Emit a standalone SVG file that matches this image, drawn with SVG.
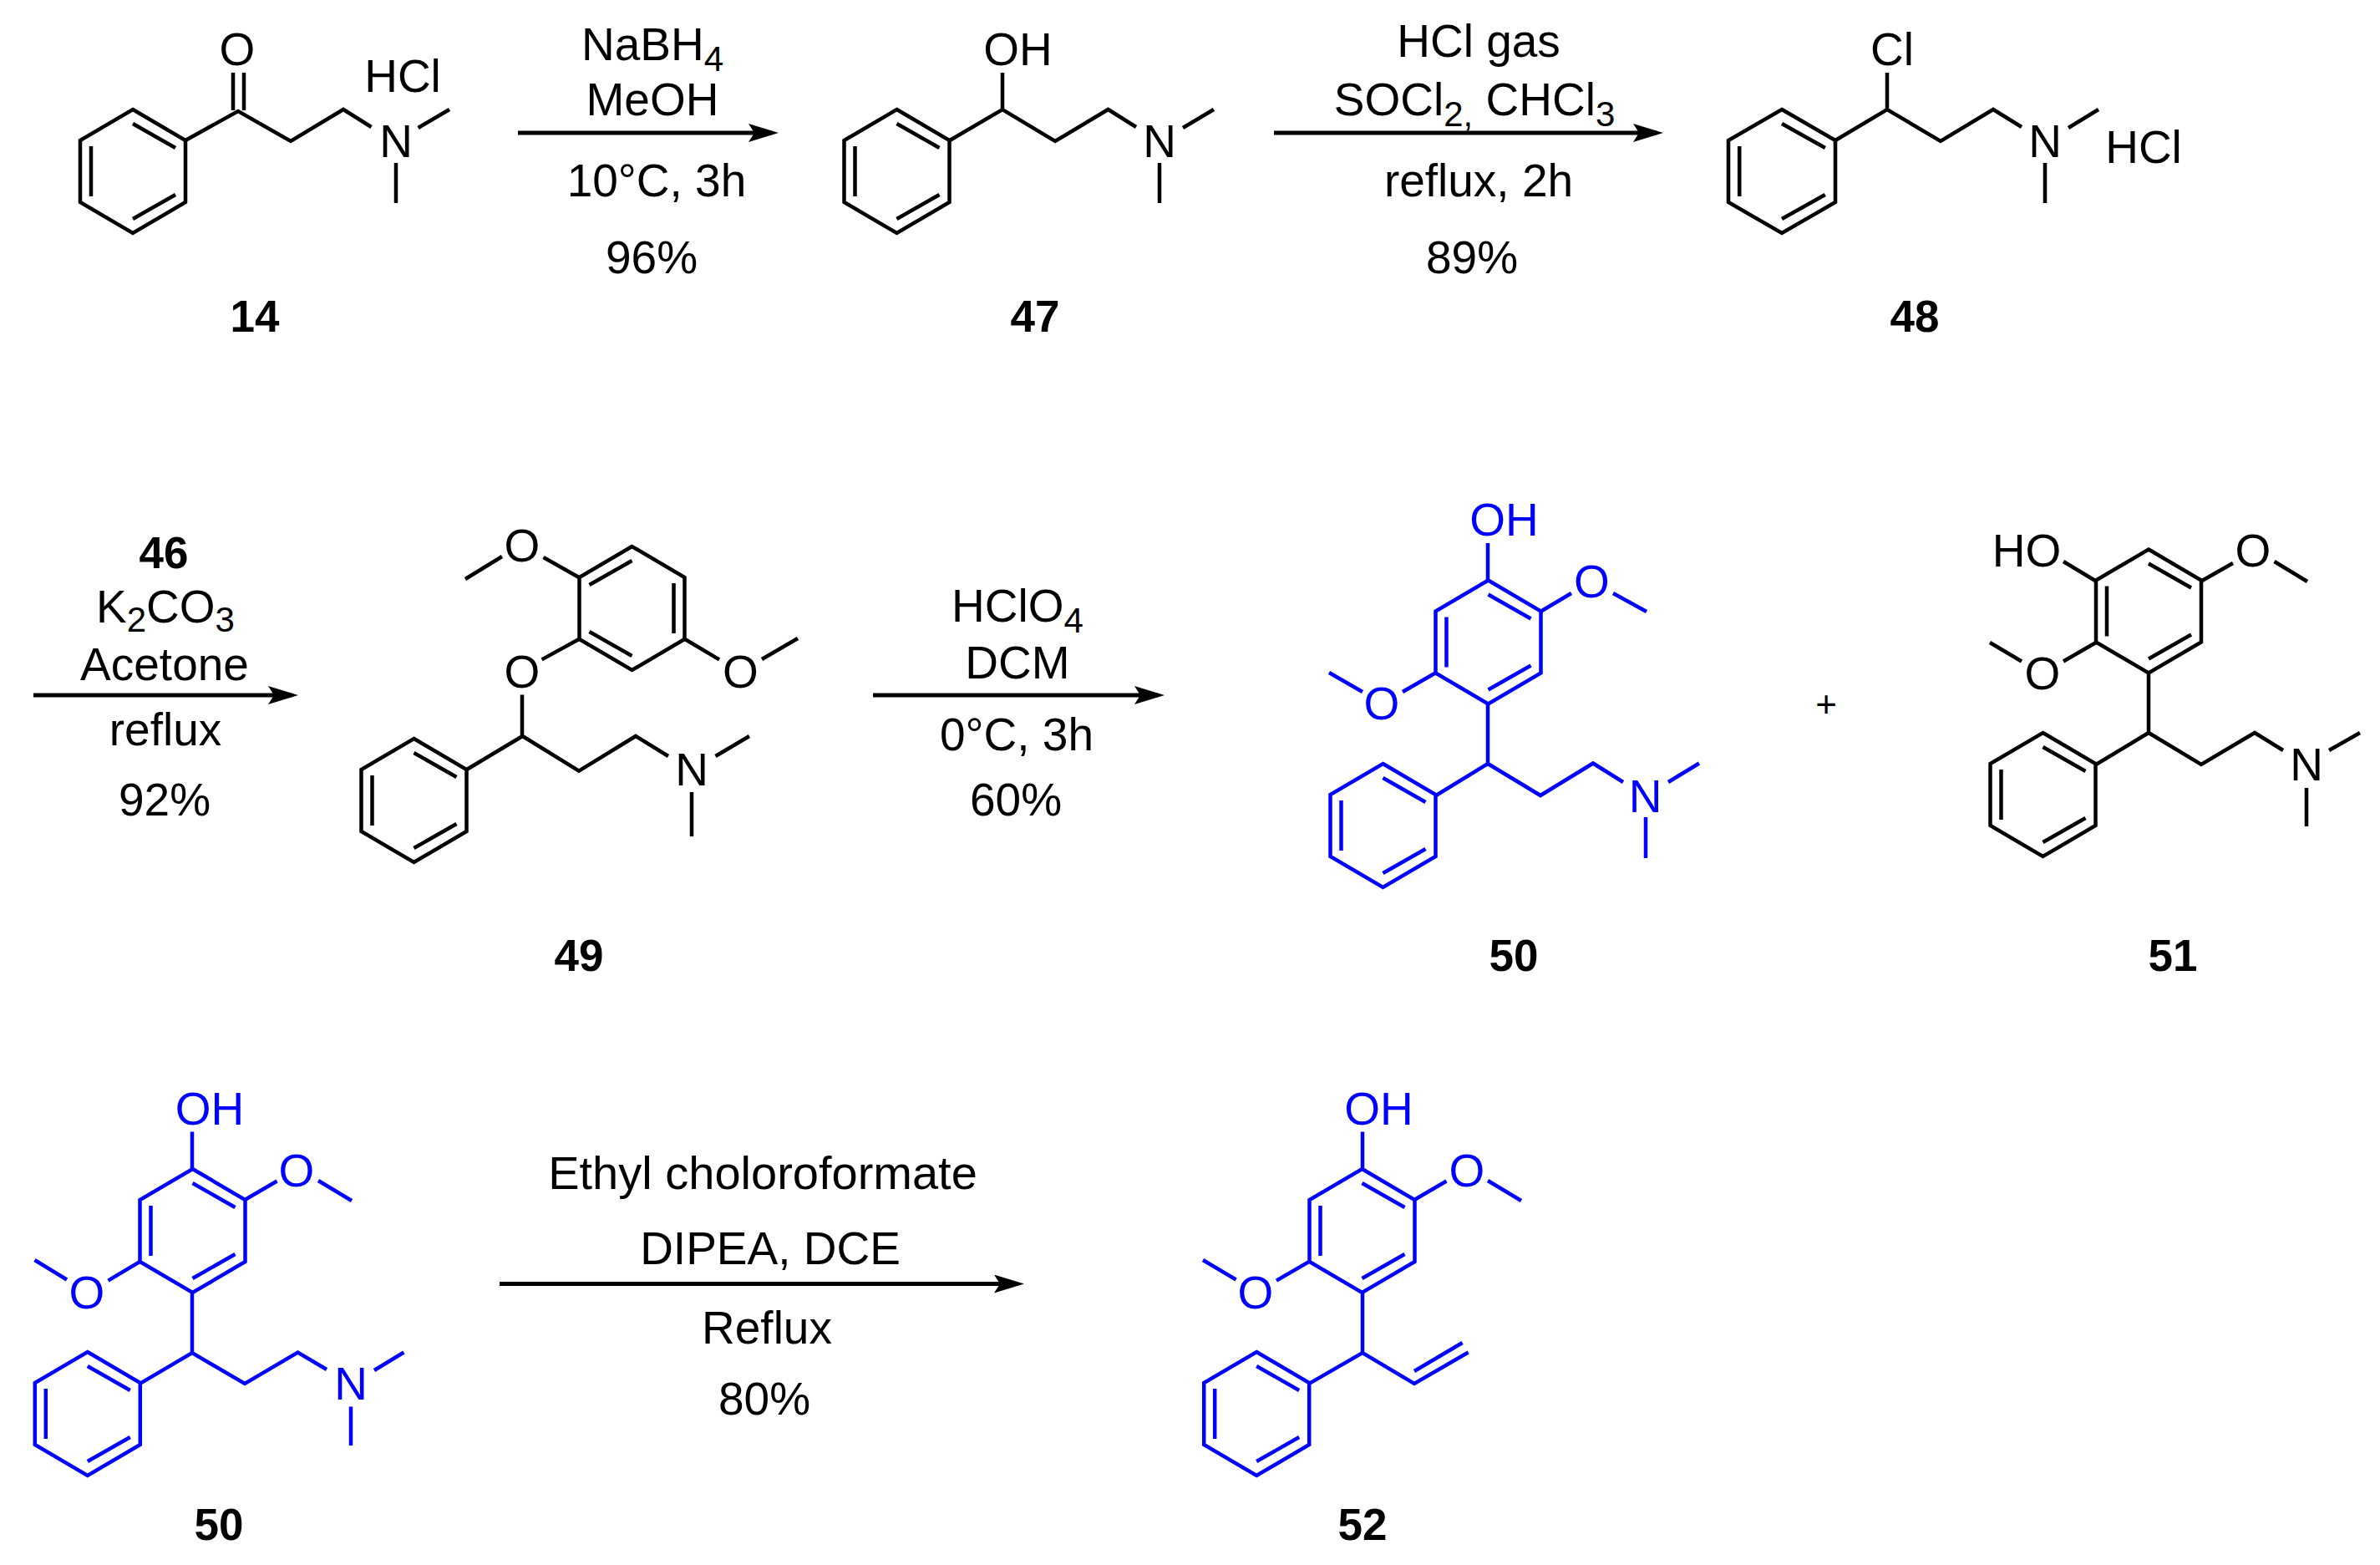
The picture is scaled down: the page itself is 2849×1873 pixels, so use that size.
<svg xmlns="http://www.w3.org/2000/svg" xmlns:xlink="http://www.w3.org/1999/xlink" width="2849" height="1873" viewBox="0 0 2849 1873">
<style>
text{font-family:"Liberation Sans",Arial,sans-serif;font-size:55px;fill:#000;text-anchor:middle}
.c{font-weight:700;font-size:53px}
.bond{fill:none;stroke:#000;stroke-width:4.5;stroke-miterlimit:10}
.arrow{fill:none;stroke:#000;stroke-width:5}
.blue text{fill:#0000ff}
.blue .c{fill:#000}
.blue .bond{stroke:#0000ff}
.sub{font-size:42px}
</style>
<defs>
<marker id="head" markerUnits="userSpaceOnUse" markerWidth="36" markerHeight="22" viewBox="0 0 36 22" refX="28" refY="11" orient="auto"><path d="M0 0L36 11L0 22L7 11Z" fill="#000"/></marker>
<path id="ring" d="M0-74L63-37V37L0 74L-63 37V-37ZM0-57L51-28M51 28L0 57M-50-30V30"/>
</defs>
<rect width="2849" height="1873" fill="#fff"/>

<g id="connectors">
<line id="arrow1" class="arrow" x1="620" y1="159" x2="924" y2="159" marker-end="url(#head)"/>
<line id="arrow2" class="arrow" x1="1525" y1="159" x2="1983" y2="159" marker-end="url(#head)"/>
<line id="arrow3" class="arrow" x1="40" y1="832" x2="349" y2="832" marker-end="url(#head)"/>
<line id="arrow4" class="arrow" x1="1045" y1="832" x2="1386" y2="832" marker-end="url(#head)"/>
<line id="arrow5" class="arrow" x1="598" y1="1536.5" x2="1218" y2="1536.5" marker-end="url(#head)"/>
</g>

<g id="conditions1">
<text x="781" y="72">NaBH<tspan class="sub" dy="13">4</tspan></text>
<text x="781" y="138">MeOH</text>
<text x="786" y="235">10°C, 3h</text>
<text x="780" y="327">96%</text>
</g>
<g id="conditions2">
<text x="1770" y="68">HCl gas</text>
<text x="1765" y="138">SOCl<tspan class="sub" dy="13">2,</tspan><tspan dy="-13"> CHCl</tspan><tspan class="sub" dy="13">3</tspan></text>
<text x="1770" y="235">reflux, 2h</text>
<text x="1762" y="327">89%</text>
</g>
<g id="conditions3">
<text class="c" x="196" y="680">46</text>
<text x="198" y="745">K<tspan class="sub" dy="11">2</tspan><tspan dy="-11">CO</tspan><tspan class="sub" dy="11">3</tspan></text>
<text x="197" y="814">Acetone</text>
<text x="198" y="892">reflux</text>
<text x="197" y="976">92%</text>
</g>
<g id="conditions4">
<text x="1218" y="744">HClO<tspan class="sub" dy="13">4</tspan></text>
<text x="1218" y="812">DCM</text>
<text x="1217" y="897.5">0°C, 3h</text>
<text x="1216" y="975.5">60%</text>
</g>
<g id="conditions5">
<text x="913" y="1423" style="font-size:56px">Ethyl choloroformate</text>
<text x="922" y="1512.5">DIPEA, DCE</text>
<text x="918" y="1608">Reflux</text>
<text x="915" y="1693">80%</text>
</g>

<g id="m14">
<use class="bond" xlink:href="#ring" href="#ring" x="159" y="205"/>
<path class="bond" d="M222 168L285 133L348 169L411 131L444.5 152M279 87V132M292 87V132M500.6 153L538 131M474 195V243"/>
<text x="284" y="78">O</text>
<text x="482" y="110">HCl</text>
<text x="474" y="188">N</text>
<text class="c" x="305" y="397">14</text>
</g>

<g id="m47">
<use class="bond" xlink:href="#ring" href="#ring" x="1073.5" y="205"/>
<path class="bond" d="M1137 168L1200 131L1263 169L1326.5 131L1360 152M1200 87V131M1416 153L1453 131M1388 195V243"/>
<text x="1218.5" y="78">OH</text>
<text x="1388" y="188">N</text>
<text class="c" x="1239" y="397">47</text>
</g>

<g id="m48">
<use class="bond" xlink:href="#ring" href="#ring" transform="translate(2133 205) scale(1.016 1)"/>
<path class="bond" d="M2197 168L2259 131L2323 169L2386 131L2420 152M2259 87V131M2476 153L2512 131M2448 195V243"/>
<text x="2265" y="78">Cl</text>
<text x="2448" y="188">N</text>
<text x="2566" y="195">HCl</text>
<text class="c" x="2292" y="397">48</text>
</g>

<g id="m49">
<use class="bond" xlink:href="#ring" href="#ring" transform="translate(756.5 728) scale(-1 1)"/>
<use class="bond" xlink:href="#ring" href="#ring" x="495.5" y="958"/>
<path class="bond" d="M693 691L650.5 667M601 666L557 693M693 765L648.6 789.4M625 831.5V881M820 765L861 789.4M912 789L955 764M558.7 921L625.5 881L693 922.6L761 881L800 905M856.5 905L897 881M828 948V1001"/>
<text x="625" y="671.5">O</text>
<text x="625" y="823">O</text>
<text x="886.5" y="823">O</text>
<text x="828" y="940">N</text>
<text class="c" x="693" y="1162">49</text>
</g>

<g id="m50" class="blue">
<use class="bond" xlink:href="#ring" href="#ring" x="1781.5" y="768.5"/>
<use class="bond" xlink:href="#ring" href="#ring" x="1655.5" y="988"/>
<path class="bond" d="M1781 650V695M1844 732L1881 710M1931 710L1971 732M1719 805L1679 828M1631 828L1591 805M1781 842V914M1719 952L1781 914L1844 952L1907 913.5L1943 936M1997 936L2034 913.5M1970 978V1027"/>
<text x="1800.5" y="641">OH</text>
<text x="1905.5" y="715">O</text>
<text x="1654" y="861">O</text>
<text x="1969.5" y="972">N</text>
<text class="c" x="1812" y="1162">50</text>
</g>

<g id="plus"><text x="2186" y="857.5" style="font-size:44px">+</text></g>

<g id="m51">
<use class="bond" xlink:href="#ring" href="#ring" x="2572" y="731.5"/>
<use class="bond" xlink:href="#ring" href="#ring" x="2445.5" y="951"/>
<path class="bond" d="M2470 672L2509 695.5M2635 695.5L2673 674M2722.5 672L2762 696M2509 769L2470 791.5M2420 791.5L2382 769M2572 805V877M2509 915L2572 877L2635 915L2699 877L2733 898M2788 898L2825 877M2761 943V989"/>
<text x="2426" y="678">HO</text>
<text x="2697" y="678">O</text>
<text x="2445" y="825">O</text>
<text x="2761" y="934">N</text>
<text class="c" x="2601" y="1162">51</text>
</g>

<g id="m50b" class="blue">
<use class="bond" xlink:href="#ring" href="#ring" x="230.5" y="1473"/>
<use class="bond" xlink:href="#ring" href="#ring" x="104.8" y="1692"/>
<path class="bond" d="M230 1354.5V1400M293 1436L331.6 1413.5M381 1413L421 1437M168 1509.6L129.5 1532.6M80 1531.5L41.5 1508M230 1546V1619M168 1655.6L230 1619L293 1656L356.5 1618.5L391 1639M448 1640L483.4 1618.5M420 1683.5V1730"/>
<text x="251" y="1346">OH</text>
<text x="355" y="1420">O</text>
<text x="104" y="1566">O</text>
<text x="420" y="1675">N</text>
<text class="c" x="262" y="1843">50</text>
</g>

<g id="m52" class="blue">
<use class="bond" xlink:href="#ring" href="#ring" x="1630.5" y="1473"/>
<use class="bond" xlink:href="#ring" href="#ring" x="1504.2" y="1692"/>
<path class="bond" d="M1631 1354.5V1400M1693 1436L1731.5 1413.5M1781 1413L1821 1437M1567.6 1509.6L1528 1532.6M1479.6 1531.5L1440 1508M1631 1546V1619M1567.6 1655.6L1631 1619L1693 1656L1757.6 1618.5M1693 1641L1750.6 1607"/>
<text x="1650.5" y="1346">OH</text>
<text x="1756" y="1420">O</text>
<text x="1503" y="1566">O</text>
<text class="c" x="1631" y="1843">52</text>
</g>
</svg>
